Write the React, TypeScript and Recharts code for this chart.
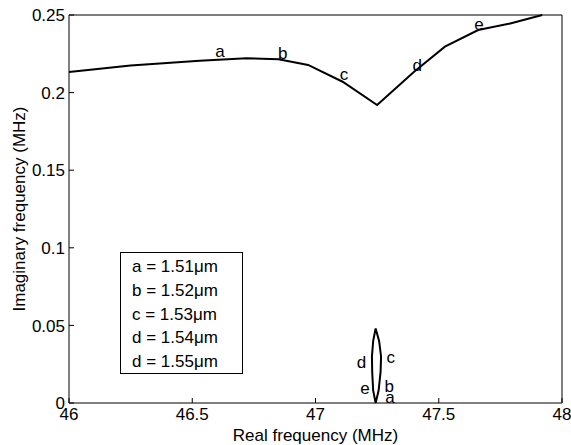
import React from 'react';
import { ComposedChart, Line, Scatter, XAxis, YAxis, Legend } from 'recharts';

// Axis ticks
const xTicks = [46, 46.5, 47, 47.5, 48];
const yTicks = [0, 0.05, 0.1, 0.15, 0.2, 0.25];

// Main branch: real frequency (MHz) vs imaginary frequency (MHz)
const mainFreq = [46.0, 46.25, 46.53, 46.72, 46.85, 46.97, 47.11, 47.25, 47.4, 47.525, 47.66, 47.79, 47.92];
const mainImag = [0.2133, 0.2175, 0.2206, 0.2221, 0.2215, 0.2178, 0.207, 0.192, 0.2135, 0.2296, 0.2403, 0.2445, 0.25];

// Small closed loop near the bottom
const loopFreq = [47.244, 47.256, 47.264, 47.266, 47.258, 47.244, 47.234, 47.229, 47.23, 47.234, 47.244];
const loopImag = [0, 0.008, 0.02, 0.03, 0.04, 0.048, 0.04, 0.03, 0.02, 0.008, 0];

// Letter annotations (text baseline positions)
const mainLabelText = ['a', 'b', 'c', 'd', 'e'];
const mainLabelFreq = [46.613, 46.867, 47.116, 47.413, 47.663];
const mainLabelImag = [0.2227, 0.2217, 0.2079, 0.2138, 0.2401];

const loopLabelText = ['d', 'c', 'e', 'b', 'a'];
const loopLabelFreq = [47.187, 47.305, 47.201, 47.299, 47.302];
const loopLabelImag = [0.0226, 0.026, 0.0055, 0.007, 0.0];

// Legend box entries
const legendLetters = ['a', 'b', 'c', 'd', 'd'];
const legendWavelengths = ['1.51', '1.52', '1.53', '1.54', '1.55'];

const F = '"Liberation Sans", Arial, Helvetica, sans-serif';
const FS = 17;
const W = 571;
const H = 445;
const PL = 69;
const PR = 562;
const PT = 15;
const PB = 403;
const TL = 5;

const mainData = mainFreq.map((x, i) => ({ x, y: mainImag[i] }));
const loopData = loopFreq.map((x, i) => ({ x, y: loopImag[i] }));
const labelData = [
  ...mainLabelText.map((t, i) => ({ x: mainLabelFreq[i], y: mainLabelImag[i], t })),
  ...loopLabelText.map((t, i) => ({ x: loopLabelFreq[i], y: loopLabelImag[i], t })),
];

const BottomTick = (props: any) => {
  const { x, payload } = props;
  return (
    <g>
      <line x1={x} x2={x} y1={PB} y2={PB - TL} stroke="#000" strokeWidth={1} />
      <text x={x} y={PB + 17} textAnchor="middle" fontSize={FS} fontFamily={F} fill="#000">
        {String(payload.value)}
      </text>
    </g>
  );
};

const TopTick = (props: any) => {
  const { x } = props;
  return <line x1={x} x2={x} y1={PT} y2={PT + TL} stroke="#000" strokeWidth={1} />;
};

const LeftTick = (props: any) => {
  const { y, payload } = props;
  return (
    <g>
      <line x1={PL} x2={PL + TL} y1={y} y2={y} stroke="#000" strokeWidth={1} />
      <text x={PL - 4} y={y} dy="0.36em" textAnchor="end" fontSize={FS} fontFamily={F} fill="#000">
        {String(payload.value)}
      </text>
    </g>
  );
};

const RightTick = (props: any) => {
  const { y } = props;
  return <line x1={PR} x2={PR - TL} y1={y} y2={y} stroke="#000" strokeWidth={1} />;
};

const LetterShape = (p: any) => (
  <text x={p.cx} y={p.cy} textAnchor="middle" fontSize={FS} fontFamily={F} fill="#000">
    {p.payload.t}
  </text>
);

const LegendBox = () => (
  <div
    style={{
      boxSizing: 'border-box',
      width: 123,
      height: 122,
      border: '1px solid #000',
      background: '#fff',
      paddingLeft: 11,
      paddingTop: 2,
      fontFamily: F,
      fontSize: FS,
      lineHeight: '23.8px',
      color: '#000',
      textAlign: 'left',
      whiteSpace: 'nowrap',
    }}
  >
    {legendLetters.map((l, i) => (
      <div key={i}>{`${l} = ${legendWavelengths[i]}\u03bcm`}</div>
    ))}
  </div>
);

export default function App() {
  return (
    <div style={{ position: 'absolute', left: 0, top: 0, width: W, height: H, background: '#fff', fontFamily: F }}>
      <ComposedChart width={W} height={H} margin={{ top: PT - 1, right: W - PR - 1, left: 0, bottom: 0 }}>
        <XAxis
          xAxisId="b"
          type="number"
          dataKey="x"
          domain={[46, 48]}
          ticks={xTicks}
          interval={0}
          height={H - PB}
          axisLine={{ stroke: '#000', strokeWidth: 1 }}
          tickLine={false}
          tick={BottomTick}
          label={{
            content: () => (
              <text x={(PL + PR) / 2} y={441} textAnchor="middle" fontSize={FS} fontFamily={F} fill="#000">
                Real frequency (MHz)
              </text>
            ),
          }}
        />
        <XAxis
          xAxisId="t"
          orientation="top"
          type="number"
          dataKey="x"
          domain={[46, 48]}
          ticks={xTicks}
          interval={0}
          height={1}
          axisLine={{ stroke: '#000', strokeWidth: 1 }}
          tickLine={false}
          tick={TopTick}
        />
        <YAxis
          yAxisId="l"
          type="number"
          dataKey="y"
          domain={[0, 0.25]}
          ticks={yTicks}
          interval={0}
          width={PL}
          axisLine={{ stroke: '#000', strokeWidth: 1 }}
          tickLine={false}
          tick={LeftTick}
          label={{
            content: () => (
              <text
                x={25}
                y={(PT + PB) / 2}
                transform={`rotate(-90 25 ${(PT + PB) / 2})`}
                textAnchor="middle"
                fontSize={FS}
                fontFamily={F}
                fill="#000"
              >
                Imaginary frequency (MHz)
              </text>
            ),
          }}
        />
        <YAxis
          yAxisId="r"
          orientation="right"
          type="number"
          dataKey="y"
          domain={[0, 0.25]}
          ticks={yTicks}
          interval={0}
          width={1}
          axisLine={{ stroke: '#000', strokeWidth: 1 }}
          tickLine={false}
          tick={RightTick}
        />
        <Line
          xAxisId="b"
          yAxisId="l"
          data={mainData}
          dataKey="y"
          type="linear"
          stroke="#000"
          strokeWidth={2}
          dot={false}
          activeDot={false}
          isAnimationActive={false}
          legendType="none"
        />
        <Line
          xAxisId="b"
          yAxisId="l"
          data={loopData}
          dataKey="y"
          type="linear"
          stroke="#000"
          strokeWidth={2}
          dot={false}
          activeDot={false}
          isAnimationActive={false}
          legendType="none"
        />
        <Scatter
          xAxisId="b"
          yAxisId="l"
          data={labelData}
          dataKey="y"
          shape={LetterShape}
          isAnimationActive={false}
          legendType="none"
        />
        <Legend
          layout="horizontal"
          verticalAlign="middle"
          align="center"
          content={LegendBox}
          wrapperStyle={{ left: 120, top: 252, width: 123, height: 122 }}
        />
      </ComposedChart>
    </div>
  );
}
